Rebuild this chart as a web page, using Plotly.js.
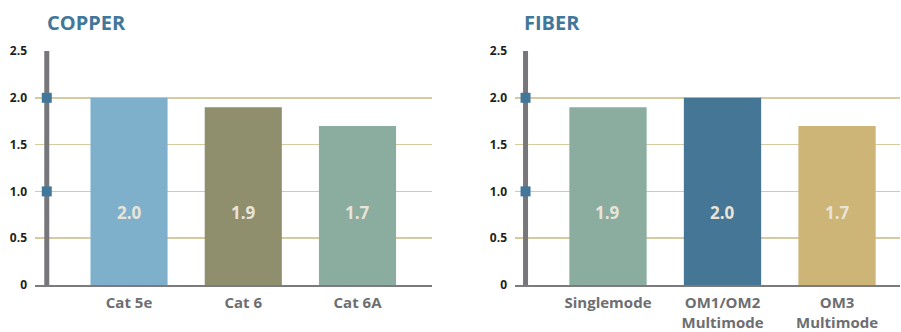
<!DOCTYPE html>
<html>
<head>
<meta charset="utf-8">
<script src="https://cdn.plot.ly/plotly-3.0.1.min.js"></script>
<style>
  html, body { margin: 0; padding: 0; background: #ffffff; }
  #chart { width: 901px; height: 332px; }
</style>
</head>
<body>
<div id="chart"></div>
<script>
// Cable bandwidth ratings, copper vs fiber
const copperCategories = ['Cat 5e', 'Cat 6', 'Cat 6A'];
const copperValues = [2.0, 1.9, 1.7];
const copperColors = ['#7eb0cc', '#8f8f6d', '#8aad9f'];

const fiberCategories = ['Singlemode', 'OM1/OM2<br>Multimode', 'OM3<br>Multimode'];
const fiberValues = [1.9, 2.0, 1.7];
const fiberColors = ['#8aad9f', '#467695', '#cdb577'];

const yTickVals = [0, 0.5, 1.0, 1.5, 2.0, 2.5];
const yTickText = ['0', '0.5', '1.0', '1.5', '2.0', '2.5'];
const markerLevels = [1.0, 2.0];

const W = 901, H = 332;
const FONT = 'Open Sans, sans-serif';
const px = v => v / W;
const py = v => 1 - v / H;

const spineX = -0.72;        // position of the thick left spine in axis units
const valueLabelY = 0.77;    // height where bar values are written

function panel(cats, vals, colors, xa, ya) {
  const idx = cats.map((_, i) => i);
  return [
    {
      type: 'bar', x: idx, y: vals, xaxis: xa, yaxis: ya,
      marker: { color: colors }, width: 0.675,
      hoverinfo: 'skip', showlegend: false
    },
    {
      type: 'scatter', mode: 'lines', x: [spineX, spineX], y: [0, yTickVals[yTickVals.length - 1]],
      xaxis: xa, yaxis: ya, line: { color: '#77767b', width: 5 },
      cliponaxis: false, hoverinfo: 'skip', showlegend: false
    },
    {
      type: 'scatter', mode: 'markers', x: markerLevels.map(() => spineX), y: markerLevels,
      xaxis: xa, yaxis: ya,
      marker: { symbol: 'square', size: 10, color: '#41779a' },
      cliponaxis: false, hoverinfo: 'skip', showlegend: false
    }
  ];
}

const data = [
  ...panel(copperCategories, copperValues, copperColors, 'x', 'y'),
  ...panel(fiberCategories, fiberValues, fiberColors, 'x2', 'y2')
];

const yDomain = [47 / H, 281 / H];

function xAxis(cats, domain, range) {
  return {
    domain: domain, range: range, type: 'linear',
    tickvals: cats.map((_, i) => i), ticktext: cats,
    showgrid: false, zeroline: false,
    showline: true, linecolor: '#7b7b7d', linewidth: 2,
    ticks: '', ticklabelstandoff: 3,
    tickfont: { family: FONT, size: 15, color: '#6d6e71', weight: 'bold' },
    fixedrange: true
  };
}
function yAxis(anchor) {
  return {
    domain: yDomain, range: [0, 2.5], anchor: anchor,
    tickvals: yTickVals, ticktext: yTickText,
    showgrid: true, gridcolor: '#d6cba0', gridwidth: 1.5,
    zeroline: false, showline: false, ticks: '', ticklabelstandoff: 7,
    tickfont: { family: FONT, size: 12, color: '#231f20', weight: 'bold' },
    fixedrange: true
  };
}

const annotations = [];
function addValueLabels(vals, xa, ya) {
  vals.forEach((v, i) => {
    annotations.push({
      x: i, y: valueLabelY, xref: xa, yref: ya, text: v.toFixed(1), showarrow: false,
      font: { family: FONT, size: 17, color: '#e8e4d8', weight: 'bold' }
    });
  });
}
addValueLabels(copperValues, 'x', 'y');
addValueLabels(fiberValues, 'x2', 'y2');

annotations.push(
  { text: 'COPPER', xref: 'paper', yref: 'paper', x: px(45), y: py(22), xanchor: 'left', yanchor: 'middle',
    showarrow: false, font: { family: FONT, size: 20, color: '#41779a', weight: 'bold' } },
  { text: 'FIBER', xref: 'paper', yref: 'paper', x: px(522), y: py(22), xanchor: 'left', yanchor: 'middle',
    showarrow: false, font: { family: FONT, size: 20, color: '#41779a', weight: 'bold' } }
);

const layout = {
  width: W, height: H,
  margin: { l: 0, r: 0, t: 0, b: 0 },
  paper_bgcolor: '#ffffff', plot_bgcolor: 'rgba(0,0,0,0)',
  showlegend: false,
  xaxis: xAxis(copperCategories, [35 / W, 432 / W], [-0.823, 2.652]),
  yaxis: yAxis('x'),
  xaxis2: Object.assign(xAxis(fiberCategories, [515 / W, 900 / W], [-0.812, 2.55]), { anchor: 'y2' }),
  yaxis2: yAxis('x2'),
  annotations: annotations
};

Plotly.newPlot('chart', data, layout, { displayModeBar: false, staticPlot: true });
</script>
</body>
</html>
